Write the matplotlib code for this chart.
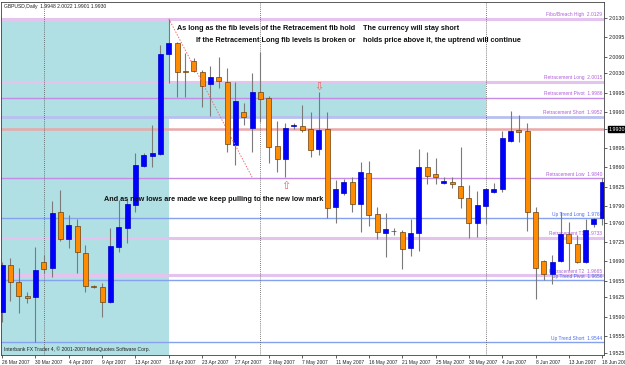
import matplotlib
matplotlib.use('Agg')
import matplotlib.pyplot as plt
from matplotlib.patches import Rectangle

# ---------------- data ----------------
date_labels = ['26 Mar 2007', '30 Mar 2007', '4 Apr 2007', '9 Apr 2007', '13 Apr 2007',
               '18 Apr 2007', '23 Apr 2007', '27 Apr 2007', '2 May 2007', '7 May 2007',
               '11 May 2007', '16 May 2007', '21 May 2007', '25 May 2007', '30 May 2007',
               '4 Jun 2007', '8 Jun 2007', '13 Jun 2007', '18 Jun 2007']

opens = [1.9598, 1.9683, 1.9653, 1.9627, 1.9626, 1.9689, 1.9678, 1.9779, 1.9730, 1.9754,
         1.9705, 1.9645, 1.9644, 1.9616, 1.9716, 1.9750, 1.9792, 1.9862, 1.9881, 1.9884,
         2.0065, 2.0085, 2.0034, 2.0052, 2.0033, 2.0011, 2.0023, 2.0014, 1.9900, 1.9960,
         1.9931, 1.9996, 1.9986, 1.9899, 1.9875, 1.9935, 1.9935, 1.9929, 1.9893, 1.9929,
         1.9788, 1.9814, 1.9834, 1.9794, 1.9850, 1.9776, 1.9741, 1.9745, 1.9743, 1.9714,
         1.9741, 1.9861, 1.9848, 1.9832, 1.9834, 1.9826, 1.9805, 1.9759, 1.9790, 1.9815,
         1.9821, 1.9908, 1.9928, 1.9926, 1.9779, 1.9691, 1.9667, 1.9691, 1.9739, 1.9721,
         1.9689, 1.9758, 1.9768]
highs = [1.9689, 1.9696, 1.9678, 1.9634, 1.9716, 1.9701, 1.9799, 1.9819, 1.9774, 1.9767,
         1.9720, 1.9647, 1.9651, 1.9750, 1.9801, 1.9805, 1.9886, 1.9886, 1.9937, 2.0081,
         2.0129, 2.0087, 2.0067, 2.0058, 2.0036, 2.0043, 2.0060, 2.0040, 2.0014, 1.9976,
         2.0031, 2.0069, 1.9989, 1.9944, 1.9940, 1.9940, 1.9973, 1.9960, 1.9996, 1.9960,
         1.9837, 1.9839, 1.9843, 1.9870, 1.9872, 1.9788, 1.9777, 1.9750, 1.9747, 1.9767,
         1.9893, 1.9888, 1.9877, 1.9842, 1.9842, 1.9897, 1.9828, 1.9817, 1.9823, 1.9832,
         1.9926, 1.9962, 1.9955, 1.9940, 1.9788, 1.9692, 1.9701, 1.9779, 1.9761, 1.9738,
         1.9767, 1.9768, 1.9841]
lows = [1.9580, 1.9618, 1.9596, 1.9615, 1.9544, 1.9669, 1.9662, 1.9727, 1.9714, 1.9669,
        1.9635, 1.9642, 1.9589, 1.9615, 1.9707, 1.9723, 1.9779, 1.9861, 1.9861, 1.9882,
        2.0013, 1.9987, 1.9987, 2.0033, 1.9969, 1.9953, 2.0004, 1.9888, 1.9864, 1.9937,
        1.9888, 1.9942, 1.9868, 1.9852, 1.9843, 1.9929, 1.9924, 1.9879, 1.9882, 1.9768,
        1.9759, 1.9810, 1.9779, 1.9743, 1.9754, 1.9730, 1.9698, 1.9738, 1.9676, 1.9700,
        1.9709, 1.9830, 1.9830, 1.9830, 1.9823, 1.9786, 1.9732, 1.9734, 1.9758, 1.9814,
        1.9815, 1.9906, 1.9906, 1.9745, 1.9622, 1.9656, 1.9649, 1.9689, 1.9674, 1.9687,
        1.9687, 1.9752, 1.9756]
closes = [1.9683, 1.9653, 1.9627, 1.9624, 1.9674, 1.9676, 1.9777, 1.9730, 1.9756, 1.9707,
          1.9645, 1.9644, 1.9616, 1.9718, 1.9752, 1.9794, 1.9864, 1.9882, 1.9886, 2.0065,
          2.0085, 2.0033, 2.0033, 2.0034, 2.0007, 2.0023, 2.0016, 1.9902, 1.9980, 1.9951,
          1.9996, 1.9984, 1.9897, 1.9875, 1.9931, 1.9937, 1.9928, 1.9891, 1.9928, 1.9786,
          1.9821, 1.9834, 1.9794, 1.9852, 1.9774, 1.9743, 1.9749, 1.9745, 1.9712, 1.9741,
          1.9861, 1.9844, 1.9842, 1.9835, 1.9830, 1.9805, 1.9759, 1.9792, 1.9821, 1.9821,
          1.9913, 1.9926, 1.9924, 1.9779, 1.9678, 1.9667, 1.9689, 1.9739, 1.9723, 1.9689,
          1.9747, 1.9767, 1.9834]

price_ticks = [2.0130, 2.0095, 2.0060, 2.0030, 1.9995, 1.9960, 1.9930, 1.9895, 1.9860,
               1.9825, 1.9790, 1.9760, 1.9725, 1.9690, 1.9655, 1.9625, 1.9590, 1.9555, 1.9525]
current_price = 1.9930

level_names = ['Fibo/Breach High', 'Retracement Long', 'Retracement Pivot', 'Retracement Short',
               'Retracement Low', 'Up Trend Long', 'Retracement T1', 'Retracement T2',
               'Up Trend Pivot', 'Up Trend Short']
level_values = [2.0129, 2.0015, 1.9986, 1.9952, 1.9840, 1.9768, 1.9733, 1.9665, 1.9656, 1.9544]
level_colors = ['#e4c4ee', '#e4c4ee', '#c68be4', '#b8c0f0', '#c68be4', '#86a2ee',
                '#e4c4ee', '#e4c4ee', '#86a2ee', '#86a2ee']
level_text_colors = ['#b060d8', '#b060d8', '#b060d8', '#b060d8', '#b060d8', '#4a6ee8',
                     '#b060d8', '#b060d8', '#4a6ee8', '#4a6ee8']
level_widths = [2.2, 2.2, 1.0, 2.0, 1.0, 1.0, 2.2, 2.2, 1.0, 1.0]

separator_bars = [5, 31, 58]            # month separators (bar index)
zone1 = (0, 20, 2.0129)                  # shaded zone: from bar, to bar, top price (to bottom)
zone2 = (20, 58, 2.0015, 1.9952)         # shaded zone: from bar, to bar, top, bottom
trend_x = [20, 30]
trend_y = [2.0129, 1.9842]
arrow_down = (38, 2.0006)
arrow_up = (34, 1.9826)

notes = [
    (21.0, 2.0112, 'As long as the fib levels of the Retracement fib hold'),
    (43.3, 2.0112, 'The currency will stay short'),
    (23.3, 2.0090, 'If the Retracement Long fib levels is broken or'),
    (43.3, 2.0090, 'holds price above it, the uptrend will continue'),
    (12.2, 1.9801, 'And as new lows are made we keep pulling to the new low mark'),
]

# ---------------- figure ----------------
W, H = 625, 365
fig = plt.figure(figsize=(W / 100, H / 100), dpi=100)
fig.patch.set_facecolor('white')
ax = fig.add_axes([1.5 / W, 10 / H, (604 - 1.5) / W, (355 - 1.5) / H])
ax.set_facecolor('white')

n = len(opens)
xs = list(range(n))
ax.set_xlim(-0.06, 72.2)
ax.set_ylim(1.95205, 2.01601)

cyan = '#b0e0e4'
ax.add_patch(Rectangle((zone1[0] - 1, ax.get_ylim()[0]), zone1[1] - zone1[0] + 1,
                       zone1[2] - ax.get_ylim()[0], facecolor=cyan, edgecolor='none', zorder=0))
ax.add_patch(Rectangle((zone2[0], zone2[3]), zone2[1] - zone2[0], zone2[2] - zone2[3],
                       facecolor=cyan, edgecolor='none', zorder=0))

for v, c, lw in zip(level_values, level_colors, level_widths):
    ax.axhline(v, color=c, lw=lw, zorder=1)
ax.axhline(current_price, color='#eaa8a8', lw=1.8, zorder=1)

for name, v, tc in zip(level_names, level_values, level_text_colors):
    ax.text(72.0, v + 0.00025, f'{name}  {v:.4f}', ha='right', va='bottom',
            fontsize=3.5, color=tc, family='Liberation Sans', zorder=2)

for b in separator_bars:
    ax.axvline(b, color='#505050', lw=0.6, ls=(0, (1, 1.5)), zorder=1)

ax.plot(trend_x, trend_y, color='#f07070', lw=0.7, ls=(0, (1.5, 1.5)), zorder=4)

# candles
for i in xs:
    o, h, l, c = opens[i], highs[i], lows[i], closes[i]
    ax.vlines(i, l, h, color='#7a7a7a', lw=0.8, zorder=3)
    bull = c > o
    bottom = min(o, c)
    height = max(abs(c - o), 0.00004)
    if bull:
        fc, ec = '#0000ff', '#0000c0'
    else:
        fc, ec = '#ff8c00', '#6a4010'
    ax.add_patch(Rectangle((i - 0.3, bottom), 0.6, height, facecolor=fc, edgecolor=ec,
                           lw=0.5, zorder=3.5))

# arrows
ax.text(arrow_down[0], arrow_down[1], '\u21e9', ha='center', va='center', fontsize=8,
        color='#f06060', family='DejaVu Sans', zorder=5)
ax.text(arrow_up[0], arrow_up[1], '\u21e7', ha='center', va='center', fontsize=8,
        color='#f06060', family='DejaVu Sans', zorder=5)

for x, y, s in notes:
    ax.text(x, y, s, ha='left', va='center', fontsize=5.2, color='#101010',
            family=['Liberation Sans Narrow', 'Liberation Sans'], fontweight='bold', zorder=6)

ax.text(0.004, 0.992, 'GBPUSD,Daily  1.9948 2.0022 1.9901 1.9930', transform=ax.transAxes,
        ha='left', va='top', fontsize=3.6, color='#202020', family='Liberation Sans', zorder=6)
ax.text(0.004, 0.008, 'Interbank FX Trader 4, \u00a9 2001-2007 MetaQuotes Software Corp.',
        transform=ax.transAxes, ha='left', va='bottom', fontsize=3.6, color='#202020',
        family='Liberation Sans', zorder=6)

# axes styling
for s in ax.spines.values():
    s.set_color('#404040')
    s.set_linewidth(0.6)
ax.yaxis.tick_right()
ax.set_yticks(price_ticks)
ax.set_yticklabels([f'{p:.4f}' for p in price_ticks])
ax.tick_params(axis='y', length=2, width=0.5, pad=1.5, labelsize=3.8, colors='#202020')
for lbl, p in zip(ax.get_yticklabels(), price_ticks):
    lbl.set_family('Liberation Sans')
    if abs(p - current_price) < 1e-9:
        lbl.set_color('white')
        lbl.set_bbox(dict(boxstyle='square,pad=0.15', facecolor='black', edgecolor='black'))

xt = list(range(0, 4 * len(date_labels), 4))
ax.set_xticks(xt)
ax.set_xticklabels(date_labels, ha='left')
ax.tick_params(axis='x', length=2, width=0.5, pad=1.5, labelsize=3.5, colors='#202020')
for lbl in ax.get_xticklabels():
    lbl.set_family('Liberation Sans')

fig.savefig('out.png', dpi=100, facecolor='white')
